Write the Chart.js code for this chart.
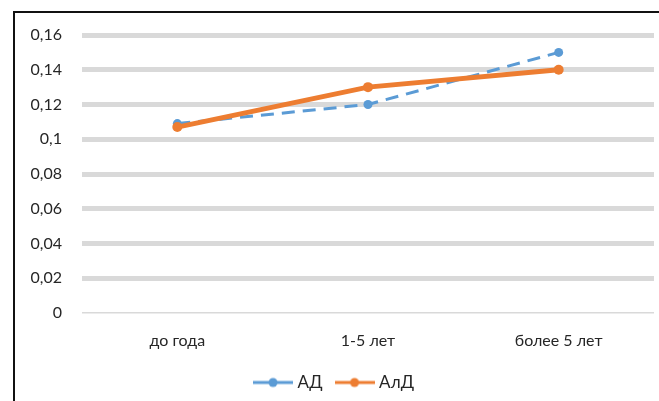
<!DOCTYPE html>
<html>
<head>
<meta charset="utf-8">
<script src="https://cdn.jsdelivr.net/npm/chart.js@4.4.0/dist/chart.umd.min.js"></script>
<style>
  html, body { margin: 0; padding: 0; background: #fff; overflow: hidden; }
  #wrap { position: relative; width: 659px; height: 401px; }
  #frame {
    position: absolute; left: 13px; top: 11px; width: 700px; height: 500px;
    border-left: 2px solid #111; border-top: 2px solid #111; pointer-events: none;
  }
  canvas { position: absolute; left: 0; top: 0; }
</style>
</head>
<body>
<div id="wrap">
  <canvas id="chart" width="659" height="401"></canvas>
  <div id="frame"></div>
</div>
<script>
// Data
const categories = ['до года', '1-5 лет', 'более 5 лет'];
const adValues = [0.109, 0.12, 0.15];
const aldValues = [0.107, 0.13, 0.14];
const yTicks = [0, 0.02, 0.04, 0.06, 0.08, 0.1, 0.12, 0.14, 0.16];

const blue = '#5B9BD5';
const orange = '#ED7D31';
const textColor = '#262626';
const fontFamily = 'Lato, "Open Sans", sans-serif';

// small legend marker: line with a dot in the middle
function legendMarker(color) {
    const c = document.createElement('canvas');
    c.width = 40; c.height = 12;
    const g = c.getContext('2d');
    g.strokeStyle = color;
    g.lineWidth = 3;
    g.beginPath(); g.moveTo(0, 6); g.lineTo(40, 6); g.stroke();
    g.fillStyle = color;
    g.beginPath(); g.arc(20, 6, 4.5, 0, Math.PI * 2); g.fill();
    return c;
}

const fmt = v => String(parseFloat(v.toFixed(2))).replace('.', ',');

new Chart(document.getElementById('chart').getContext('2d'), {
    type: 'line',
    data: {
        labels: categories,
        datasets: [{
            label: 'АД',
            data: adValues,
            borderColor: blue,
            backgroundColor: blue,
            borderWidth: 3,
            borderDash: [13, 8],
            pointRadius: 4.5,
            pointBorderWidth: 0,
            order: 1
        }, {
            label: 'АлД',
            data: aldValues,
            borderColor: orange,
            backgroundColor: orange,
            borderWidth: 5,
            pointRadius: 5,
            pointBorderWidth: 0,
            order: 0
        }]
    },
    options: {
        responsive: false,
        animation: false,
        layout: { padding: { left: 16, top: 35, right: 4, bottom: 0 } },
        scales: {
            x: {
                offset: true,
                grid: { display: false },
                border: { display: false },
                ticks: { color: textColor, font: { family: fontFamily, size: 16 }, padding: 10 },
                afterFit: s => { s.height = 45; }
            },
            y: {
                min: 0,
                max: 0.16,
                afterBuildTicks: s => { s.ticks = yTicks.map(v => ({ value: v })); },
                grid: {
                    color: '#d9d9d9',
                    lineWidth: ctx => (ctx.tick && ctx.tick.value === 0 ? 1.5 : 5),
                    drawTicks: false
                },
                border: { display: false },
                ticks: {
                    color: textColor,
                    font: { family: fontFamily, size: 16 },
                    padding: 20,
                    callback: v => fmt(v)
                },
                afterFit: s => { s.width = 66; }
            }
        },
        plugins: {
            tooltip: { enabled: false },
            legend: {
                position: 'bottom',
                labels: {
                    color: textColor,
                    font: { family: fontFamily, size: 17 },
                    usePointStyle: true,
                    pointStyleWidth: 32,
                    boxHeight: 12,
                    padding: 16,
                    generateLabels: chart => chart.data.datasets.map((ds, i) => ({
                        text: ds.label,
                        pointStyle: legendMarker(ds.borderColor),
                        fillStyle: ds.borderColor,
                        strokeStyle: ds.borderColor,
                        lineWidth: 0,
                        fontColor: textColor,
                        datasetIndex: i
                    }))
                }
            }
        }
    }
});
</script>
</body>
</html>
